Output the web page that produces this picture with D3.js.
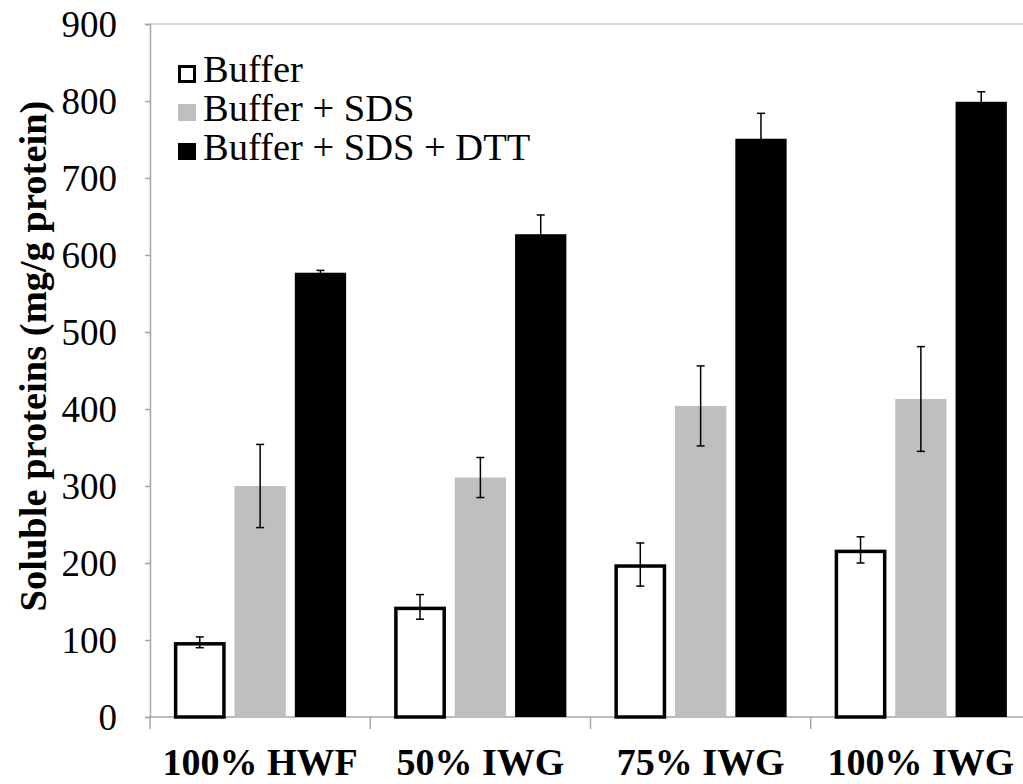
<!DOCTYPE html>
<html>
<head>
<meta charset="utf-8">
<script src="https://cdn.jsdelivr.net/npm/d3@7"></script>
<style>
  body { margin: 0; background: #fff; }
  text { font-family: "Liberation Serif", "Times New Roman", serif; fill: #000; }
</style>
</head>
<body>
<div class="chart"></div>
<script>
// Data
var categories = ['100% HWF', '50% IWG', '75% IWG', '100% IWG'];
var seriesNames = ['Buffer', 'Buffer + SDS', 'Buffer + SDS + DTT'];
var bufferVals = [97, 143, 198, 217];
var bufferErr = [7, 16, 28, 17];
var sdsVals = [300, 311, 404, 413];
var sdsErr = [54, 26, 52, 68];
var dttVals = [577, 627, 751, 799];
var dttErr = [3, 25, 33, 13];
var yTicks = [0, 100, 200, 300, 400, 500, 600, 700, 800, 900];

var svgWidth = 1023;
var svgHeight = 784;
var margin = { top: 24, right: -8, bottom: 67, left: 150 };
var width = svgWidth - margin.left - margin.right;
var height = svgHeight - margin.top - margin.bottom;

var svg = d3.select('.chart')
  .append('svg')
  .attr('width', svgWidth)
  .attr('height', svgHeight)
  .style('display', 'block');

var chart = svg.append('g')
  .attr('transform', 'translate(' + margin.left + ',' + margin.top + ')');

var seriesVals = [bufferVals, sdsVals, dttVals];
var seriesErr = [bufferErr, sdsErr, dttErr];
var fills = ['#ffffff', '#bfbfbf', '#000000'];

var x0 = d3.scaleBand().domain(categories).range([0, width]);
var x1 = d3.scaleBand().domain(seriesNames).range([0, x0.bandwidth()])
  .paddingInner(0.15).paddingOuter(0.4);
var y = d3.scaleLinear().domain([0, 900]).range([height, 0]);

// top border
chart.append('line')
  .attr('x1', 0).attr('x2', width)
  .attr('y1', 0).attr('y2', 0)
  .attr('stroke', '#cfcfcf').attr('stroke-width', 1.5);

// y axis
var leftAxis = d3.axisLeft(y).tickValues(yTicks).tickSize(5).tickPadding(28);
var yAxis = chart.append('g').call(leftAxis);
yAxis.select('.domain').attr('stroke', '#a6a6a6').attr('stroke-width', 1.5);
yAxis.selectAll('.tick line').attr('stroke', '#a6a6a6').attr('stroke-width', 1.5);
yAxis.selectAll('.tick text')
  .style('font-family', '"Liberation Serif", serif')
  .style('font-size', '37px')
  .attr('dy', '0.33em');

// x axis with ticks on category boundaries
var xAxis = chart.append('g').attr('transform', 'translate(0,' + height + ')');
xAxis.append('line')
  .attr('x1', 0).attr('x2', width)
  .attr('stroke', '#a6a6a6').attr('stroke-width', 1.5);
xAxis.selectAll('.bound')
  .data(categories)
  .enter()
  .append('line')
  .attr('x1', function(d) { return x0(d); })
  .attr('x2', function(d) { return x0(d); })
  .attr('y1', 0).attr('y2', 12)
  .attr('stroke', '#a6a6a6').attr('stroke-width', 1.5);
xAxis.selectAll('.cat')
  .data(categories)
  .enter()
  .append('text')
  .attr('x', function(d) { return x0(d) + x0.bandwidth() / 2; })
  .attr('y', 58)
  .attr('text-anchor', 'middle')
  .style('font-size', '38px')
  .style('font-weight', 'bold')
  .text(function(d) { return d; });

// bars
var rows = [];
categories.forEach(function(c, i) {
  seriesNames.forEach(function(s, j) {
    rows.push({ cat: c, series: s, idx: j, value: seriesVals[j][i], err: seriesErr[j][i] });
  });
});

var groups = chart.selectAll('.bar')
  .data(rows)
  .enter()
  .append('g')
  .attr('transform', function(d) { return 'translate(' + (x0(d.cat) + x1(d.series)) + ',0)'; });

groups.append('rect')
  .attr('x', function(d) { return d.idx === 0 ? 1.5 : 0; })
  .attr('y', function(d) { return y(d.value) + (d.idx === 0 ? 1.5 : 0); })
  .attr('width', function(d) { return x1.bandwidth() - (d.idx === 0 ? 3 : 0); })
  .attr('height', function(d) { return height - y(d.value) - (d.idx === 0 ? 1.5 : 0); })
  .attr('fill', function(d) { return fills[d.idx]; })
  .attr('stroke', function(d) { return d.idx === 0 ? '#000' : 'none'; })
  .attr('stroke-width', 3.5);

// error bars
var bw = x1.bandwidth();
groups.append('line')
  .attr('x1', bw / 2).attr('x2', bw / 2)
  .attr('y1', function(d) { return y(d.value + d.err); })
  .attr('y2', function(d) { return y(d.value - d.err); })
  .attr('stroke', '#000').attr('stroke-width', 1.5);
groups.append('line')
  .attr('x1', bw / 2 - 4).attr('x2', bw / 2 + 4)
  .attr('y1', function(d) { return y(d.value + d.err); })
  .attr('y2', function(d) { return y(d.value + d.err); })
  .attr('stroke', '#000').attr('stroke-width', 1.5);
groups.append('line')
  .attr('x1', bw / 2 - 4).attr('x2', bw / 2 + 4)
  .attr('y1', function(d) { return y(d.value - d.err); })
  .attr('y2', function(d) { return y(d.value - d.err); })
  .attr('stroke', '#000').attr('stroke-width', 1.5);

// y-axis title
svg.append('text')
  .attr('transform', 'translate(46,356) rotate(-90)')
  .attr('text-anchor', 'middle')
  .style('font-size', '38.5px')
  .style('font-weight', 'bold')
  .text('Soluble proteins (mg/g protein)');

// legend
var legend = svg.append('g').attr('transform', 'translate(178,82)');
var item = legend.selectAll('.item')
  .data(seriesNames)
  .enter()
  .append('g')
  .attr('transform', function(d, i) { return 'translate(0,' + i * 39 + ')'; });
item.append('rect')
  .attr('x', function(d, i) { return i === 0 ? 1.5 : 0; })
  .attr('y', function(d, i) { return i === 0 ? -15.5 : -17; })
  .attr('width', function(d, i) { return i === 0 ? 15 : 18; })
  .attr('height', function(d, i) { return i === 0 ? 15 : 17; })
  .attr('fill', function(d, i) { return fills[i]; })
  .attr('stroke', function(d, i) { return i === 0 ? '#000' : 'none'; })
  .attr('stroke-width', 3);
item.append('text')
  .attr('x', 25)
  .attr('y', 0)
  .style('font-size', '38.5px')
  .text(function(d) { return d; });
</script>
</body>
</html>
